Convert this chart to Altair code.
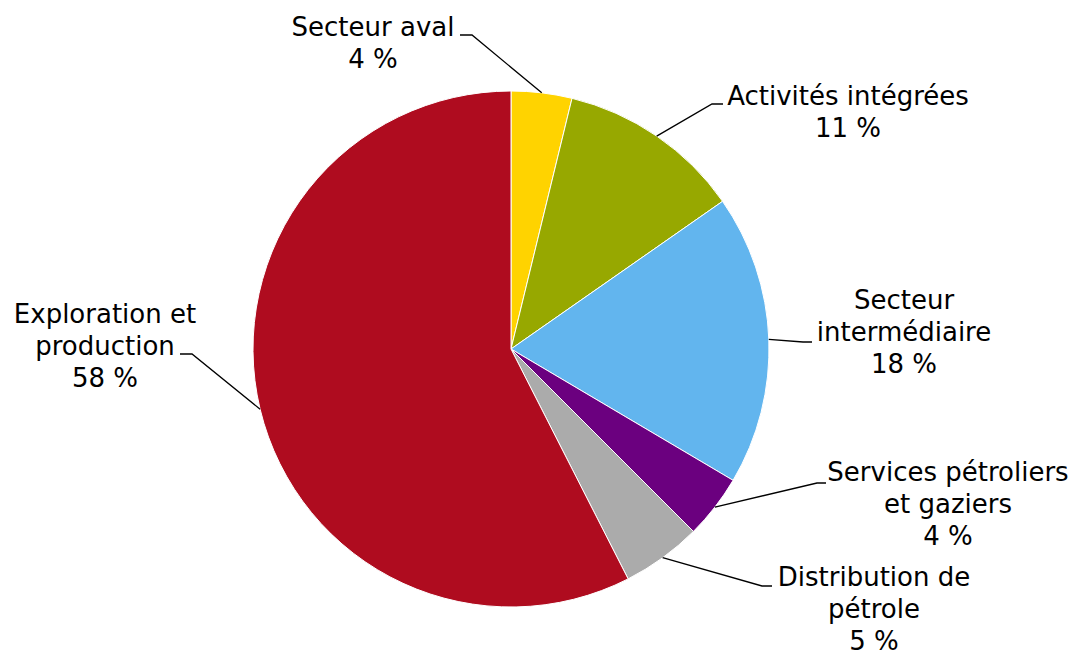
import math
import altair as alt
import pandas as pd

# ---- data ----
categories = [
    "Secteur aval",
    "Activités intégrées",
    "Secteur intermédiaire",
    "Services pétroliers et gaziers",
    "Distribution de pétrole",
    "Exploration et production",
]
shares = [3.8, 11.5, 18.2, 4.0, 5.0, 57.5]
label_lines = [
    ["Secteur aval", "4 %"],
    ["Activités intégrées", "11 %"],
    ["Secteur", "intermédiaire", "18 %"],
    ["Services pétroliers", "et gaziers", "4 %"],
    ["Distribution de", "pétrole", "5 %"],
    ["Exploration et", "production", "58 %"],
]
colors = ["#FFD300", "#97A800", "#62B5EE", "#6B007F", "#ABABAB", "#AF0C1F"]

# ---- layout (pixels relative to pie centre, y downward) ----
R = 258
W, H = 1062, 642
CX, CY = 503, 341
elbows = [(-39, -314), (201, -245), (292, -7), (306, 134), (251, 237), (-319, 5)]
ends = [(-51, -314), (212, -245), (301, -7), (315, 134), (261, 237), (-331, 5)]
# position of the first text line centre of each label
text_pos = [(-138, -321), (337, -252), (393, -48), (437, 124), (363, 229), (-406, -34)]

pie_df = pd.DataFrame({"cat": categories, "share": shares, "idx": range(len(shares))})

total = sum(shares)
line_rows = []
cum = 0.0
for i, s in enumerate(shares):
    mid = (cum + s / 2) / total * 2 * math.pi
    cum += s
    rx, ry = R * math.sin(mid), -R * math.cos(mid)
    pts = [(rx, ry), elbows[i], ends[i]]
    for k, (px, py) in enumerate(pts):
        line_rows.append({"cat": categories[i], "step": k, "x": px, "y": py})
lines_df = pd.DataFrame(line_rows)

text_df = pd.DataFrame({
    "cat": categories,
    "label": ["\n".join(l) for l in label_lines],
    "x": [p[0] for p in text_pos],
    "y": [p[1] for p in text_pos],
})

xs = alt.Scale(domain=[-CX, W - CX])
ys = alt.Scale(domain=[-CY, H - CY], reverse=True)

pie = alt.Chart(pie_df).mark_arc(outerRadius=R, stroke="white", strokeWidth=1).encode(
    theta=alt.Theta("share:Q", stack=True),
    order=alt.Order("idx:Q"),
    color=alt.Color("cat:N", scale=alt.Scale(domain=categories, range=colors), legend=None),
    x=alt.datum(0, scale=xs, axis=None),
    y=alt.datum(0, scale=ys, axis=None),
)

leaders = alt.Chart(lines_df).mark_line(color="black", strokeWidth=1.3).encode(
    x=alt.X("x:Q", scale=xs, axis=None),
    y=alt.Y("y:Q", scale=ys, axis=None),
    detail="cat:N",
    order="step:Q",
)

labels = alt.Chart(text_df).mark_text(
    align="center", baseline="middle", font="DejaVu Sans", fontSize=26,
    lineHeight=32, lineBreak="\n", color="black",
).encode(
    x=alt.X("x:Q", scale=xs, axis=None),
    y=alt.Y("y:Q", scale=ys, axis=None),
    text="label:N",
)

chart = alt.layer(pie, leaders, labels).properties(
    width=W, height=H, padding=0,
    autosize=alt.AutoSizeParams(type="none"),
).configure_view(stroke=None)

chart.save("out.html", embed_options={"renderer": "svg", "actions": False})
